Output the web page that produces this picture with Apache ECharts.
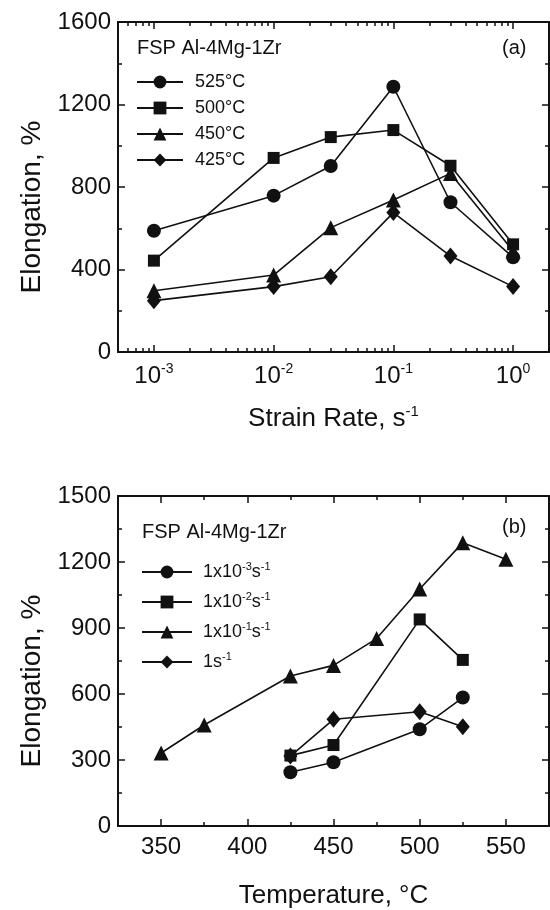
<!DOCTYPE html>
<html>
<head>
<meta charset="utf-8">
<script src="https://cdn.jsdelivr.net/npm/echarts@6/dist/echarts.min.js"></script>
<style>html,body{margin:0;padding:0;background:#fff;}#c{width:550px;height:910px;}</style>
</head>
<body>
<div id="c"></div>
<script>
// ---------- Data: panel (a) elongation vs strain rate ----------
const strainRates = [0.001, 0.01, 0.03, 0.1, 0.3, 1];
const elong525 = [588, 758, 902, 1286, 726, 459];
const elong500 = [443, 941, 1042, 1076, 903, 522];
const elong450 = [297, 373, 603, 737, 866, 490];
const elong425 = [249, 317, 365, 676, 465, 317];
const namesA = ['525°C', '500°C', '450°C', '425°C'];
const rateTickExponents = [-3, -2, -1, 0];

// ---------- Data: panel (b) elongation vs temperature ----------
const temps3 = [425, 450, 500, 525];
const elongR3 = [244, 290, 440, 584];
const temps2 = [425, 450, 500, 525];
const elongR2 = [320, 368, 939, 755];
const temps1 = [350, 375, 425, 450, 475, 500, 525, 550];
const elongR1 = [332, 459, 682, 730, 852, 1077, 1288, 1213];
const temps0 = [425, 450, 500, 525];
const elongR0 = [318, 485, 519, 451];
const namesB = ['1x10^-3s^-1', '1x10^-2s^-1', '1x10^-1s^-1', '1s^-1'];
const tempTicks = [350, 400, 450, 500, 550];
const tempMinorTicks = [375, 425, 475, 525];

// ---------- styling ----------
const INK = '#111';
const FONT = 'Liberation Sans, Arial, Helvetica, sans-serif';
const logMin = -3.3, logMax = 0.3;
const rateMinorTicks = [];
for (let e = -4; e <= 0; e++) {
  for (let k = 2; k <= 9; k++) {
    const v = Math.log10(k) + e;
    if (v > logMin && v < logMax) rateMinorTicks.push(v);
  }
}
const supRich = {
  b: {fontSize: 24, fontFamily: FONT, color: INK, lineHeight: 28},
  s: {fontSize: 14, fontFamily: FONT, color: INK, verticalAlign: 'top', lineHeight: 16}
};
const legendRich = {
  b: {fontSize: 18, fontFamily: FONT, color: INK, lineHeight: 22},
  s: {fontSize: 11, fontFamily: FONT, color: INK, verticalAlign: 'top', lineHeight: 12}
};
const supFmt = s => '{b|' + s.replace(/\^(-?\d+)/g, '}{s|$1}{b|') + '}';

const lineAxis = {show: true, onZero: false, lineStyle: {color: INK, width: 2}};
function xAx(grid, pos, min, max, majors, labelled, extra) {
  return Object.assign({
    type: 'value', gridIndex: grid, position: pos, min: min, max: max,
    axisLine: lineAxis,
    splitLine: {show: false},
    axisTick: {show: true, inside: true, length: 7, customValues: majors, lineStyle: {color: INK, width: 1.5}},
    axisLabel: {show: labelled, customValues: majors, margin: 10}
  }, extra || {});
}
function xMinor(grid, pos, min, max, minors) {
  return {
    type: 'value', gridIndex: grid, position: pos, min: min, max: max,
    axisLine: {show: false, onZero: false}, splitLine: {show: false},
    axisTick: {show: true, inside: true, length: 4, customValues: minors, lineStyle: {color: INK, width: 1.5}},
    axisLabel: {show: false}
  };
}
function yAx(grid, pos, max, interval, labelled, extra) {
  return Object.assign({
    type: 'value', gridIndex: grid, position: pos, min: 0, max: max, interval: interval,
    axisLine: lineAxis, splitLine: {show: false}, minorSplitLine: {show: false},
    axisTick: {show: true, inside: true, length: 7, lineStyle: {color: INK, width: 1.5}},
    minorTick: {show: true, splitNumber: 2, length: 4, lineStyle: {color: INK, width: 1.5}},
    axisLabel: {show: labelled, margin: 7, fontSize: 24, fontFamily: FONT, color: INK,
      formatter: v => String(v)}
  }, extra || {});
}

const yName = {
  name: 'Elongation, %', nameLocation: 'middle', nameGap: 70,
  nameTextStyle: {fontSize: 28, fontFamily: FONT, color: INK, padding: [0, 40, 0, 0]}
};

const symA = ['circle', 'rect', 'triangle', 'diamond'];
const sizeA = [14, 12, 15, [14, 17]];
function mkSeries(name, xs, ys, idx, xi, yi, toX) {
  return {
    type: 'line', name: name, xAxisIndex: xi, yAxisIndex: yi,
    data: xs.map((x, i) => [toX(x), ys[i]]),
    symbol: symA[idx], symbolSize: sizeA[idx],
    lineStyle: {color: INK, width: 1.6},
    itemStyle: {color: INK, borderColor: INK, borderWidth: 0},
    z: 3 + idx, animation: false
  };
}
const log10 = v => Math.log10(v);
const ident = v => v;

const series = [
  mkSeries(namesA[0], strainRates, elong525, 0, 0, 0, log10),
  mkSeries(namesA[1], strainRates, elong500, 1, 0, 0, log10),
  mkSeries(namesA[2], strainRates, elong450, 2, 0, 0, log10),
  mkSeries(namesA[3], strainRates, elong425, 3, 0, 0, log10),
  mkSeries(namesB[0], temps3, elongR3, 0, 4, 2, ident),
  mkSeries(namesB[1], temps2, elongR2, 1, 4, 2, ident),
  mkSeries(namesB[2], temps1, elongR1, 2, 4, 2, ident),
  mkSeries(namesB[3], temps0, elongR0, 3, 4, 2, ident)
];

const option = {
  backgroundColor: '#fff',
  animation: false,
  grid: [
    {left: 118, top: 22, width: 431, height: 330},
    {left: 118, top: 496, width: 431, height: 331}
  ],
  xAxis: [
    xAx(0, 'bottom', logMin, logMax, rateTickExponents, true, {
      axisLabel: {show: true, customValues: rateTickExponents, margin: 10,
        formatter: v => supFmt('10^' + Math.round(v)), rich: supRich},
      name: supFmt('Strain Rate, s^-1'), nameLocation: 'middle', nameGap: 52,
      nameTextStyle: {rich: {
        b: {fontSize: 26, fontFamily: FONT, color: INK, lineHeight: 30},
        s: {fontSize: 15, fontFamily: FONT, color: INK, verticalAlign: 'top', lineHeight: 16}}}
    }),
    xMinor(0, 'bottom', logMin, logMax, rateMinorTicks),
    xAx(0, 'top', logMin, logMax, rateTickExponents, false),
    xMinor(0, 'top', logMin, logMax, rateMinorTicks),
    xAx(1, 'bottom', 325, 575, tempTicks, true, {
      axisLabel: {show: true, customValues: tempTicks, margin: 9, fontSize: 24, fontFamily: FONT, color: INK},
      name: 'Temperature, °C', nameLocation: 'middle', nameGap: 57,
      nameTextStyle: {fontSize: 26, fontFamily: FONT, color: INK}
    }),
    xMinor(1, 'bottom', 325, 575, tempMinorTicks),
    xAx(1, 'top', 325, 575, tempTicks, false),
    xMinor(1, 'top', 325, 575, tempMinorTicks)
  ],
  yAxis: [
    yAx(0, 'left', 1600, 400, true, yName),
    yAx(0, 'right', 1600, 400, false),
    yAx(1, 'left', 1500, 300, true, yName),
    yAx(1, 'right', 1500, 300, false)
  ],
  legend: [
    {
      data: namesA, orient: 'vertical', left: 131, top: 68, itemGap: 8,
      itemWidth: 46, itemHeight: 16, selectedMode: false,
      textStyle: {fontSize: 18, fontFamily: FONT, color: INK, padding: [0, 0, 0, 7]}
    },
    {
      data: namesB, orient: 'vertical', left: 136, top: 556, itemGap: 10,
      itemWidth: 50, itemHeight: 16, selectedMode: false,
      formatter: n => supFmt(n),
      textStyle: {padding: [0, 0, 0, 6], rich: legendRich}
    }
  ],
  graphic: [
    {type: 'text', left: 137, top: 38, style: {text: 'FSP Al-4Mg-1Zr', fontSize: 20, fontFamily: FONT, fill: INK}},
    {type: 'text', left: 502, top: 38, style: {text: '(a)', fontSize: 20, fontFamily: FONT, fill: INK}},
    {type: 'text', left: 142, top: 522, style: {text: 'FSP Al-4Mg-1Zr', fontSize: 20, fontFamily: FONT, fill: INK}},
    {type: 'text', left: 502, top: 517, style: {text: '(b)', fontSize: 20, fontFamily: FONT, fill: INK}}
  ],
  series: series
};

const chart = echarts.init(document.getElementById('c'), null, {renderer: 'canvas'});
chart.setOption(option);
</script>
</body>
</html>
